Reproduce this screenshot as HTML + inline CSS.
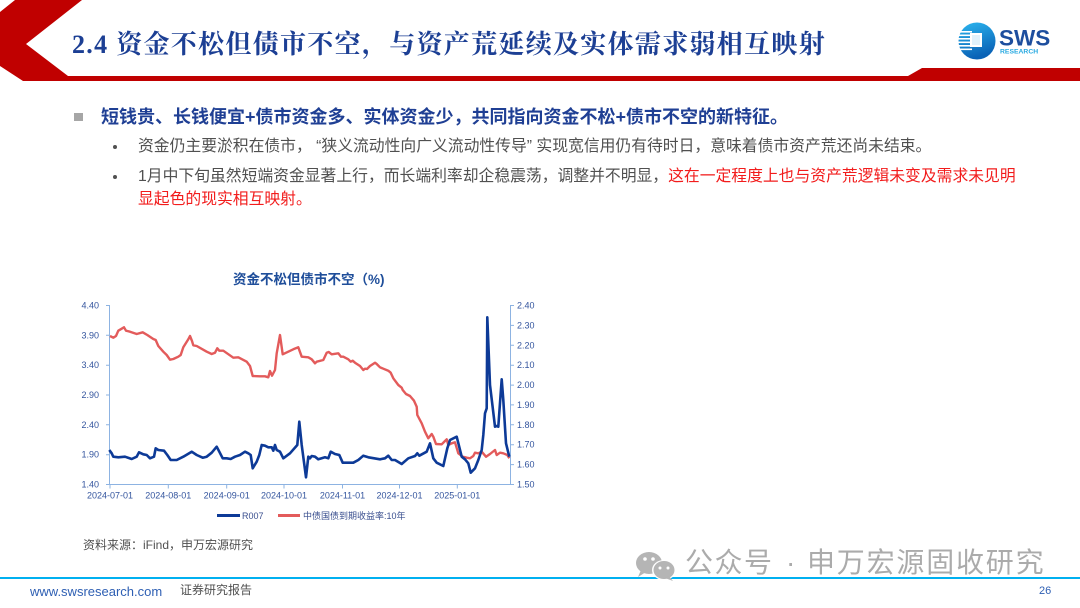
<!DOCTYPE html>
<html><head><meta charset="utf-8">
<style>
html,body{margin:0;padding:0;background:#fff;}
body{width:1080px;height:608px;position:relative;overflow:hidden;font-family:"Liberation Sans","Noto Sans CJK SC",sans-serif;}
.a{position:absolute;white-space:nowrap;}
.title{left:72px;top:28px;font-family:"Liberation Serif","Noto Serif CJK SC",serif;font-weight:700;font-size:26px;line-height:34px;color:#1c3f94;letter-spacing:1.3px;}
.h1{left:101px;top:105px;font-size:18px;line-height:24px;font-weight:700;color:#1f3f94;}
.p{left:138px;font-size:15.8px;line-height:22px;color:#505050;}
.red{color:#f21c1c;}
.dot{position:absolute;width:4px;height:4px;border-radius:50%;background:#505050;}
</style></head><body>

<svg class="a" style="left:0;top:0" width="1080" height="608" viewBox="0 0 1080 608">
  <defs>
    <linearGradient id="lg" x1="0" y1="0" x2="0.3" y2="1">
      <stop offset="0" stop-color="#2cb6ef"/>
      <stop offset="1" stop-color="#0a62b6"/>
    </linearGradient>
  </defs>
  <!-- header red shapes -->
  <polygon points="15,0 82,0 26,44 68,76 23,81 0,66 0,12" fill="#c00000"/>
  <polygon points="23,76 908,76 922,68 1080,68 1080,81 23,81" fill="#c00000"/>

  <!-- logo -->
  <circle cx="977" cy="41" r="18.5" fill="url(#lg)"/>
  <rect x="958" y="31" width="14" height="1.6" fill="#fff"/>
  <rect x="958" y="34.5" width="13" height="1.6" fill="#fff"/>
  <rect x="958" y="38" width="12" height="1.6" fill="#fff"/>
  <rect x="958" y="41.5" width="12" height="1.6" fill="#fff"/>
  <rect x="958" y="45" width="13" height="1.6" fill="#fff"/>
  <rect x="959" y="48.5" width="13" height="1.6" fill="#fff"/>
  <rect x="970" y="33" width="12" height="14" fill="#fff"/>
  <rect x="972" y="35" width="8" height="10" fill="#dff1fb"/>
  <text x="999" y="45.5" font-family="Liberation Sans, sans-serif" font-weight="700" font-size="22.5" fill="#1d4e9e">SWS</text>
  <text x="1000" y="53.5" font-family="Liberation Sans, sans-serif" font-weight="700" font-size="6.8" fill="#27a9e1">RESEARCH</text>

  <!-- chart title -->
  <text x="233" y="284" font-family="Liberation Sans, Noto Sans CJK SC, sans-serif" font-weight="700" font-size="13.5" fill="#1f4e9a">资金不松但债市不空（%)</text>

  <!-- axes -->
  <g stroke="#8db3e2" stroke-width="1" fill="none">
    <line x1="109.5" y1="305" x2="109.5" y2="485"/>
    <line x1="510.5" y1="305" x2="510.5" y2="485"/>
    <line x1="109.5" y1="484.5" x2="510.5" y2="484.5"/>
    <path d="M106 305.5H109.5M106 335.3H109.5M106 365.2H109.5M106 395H109.5M106 424.8H109.5M106 454.7H109.5M106 484.5H109.5"/>
    <path d="M510.5 305.5H514M510.5 325.4H514M510.5 345.3H514M510.5 365.2H514M510.5 385.1H514M510.5 404.9H514M510.5 424.8H514M510.5 444.7H514M510.5 464.6H514M510.5 484.5H514"/>
    <path d="M110 484.5V488.5M168.3 484.5V488.5M226.7 484.5V488.5M284 484.5V488.5M342.5 484.5V488.5M399.5 484.5V488.5M457.3 484.5V488.5"/>
  </g>
  <g font-family="Liberation Sans, sans-serif" font-size="9" fill="#34559e">
    <g text-anchor="end">
      <text x="99" y="308.5">4.40</text>
      <text x="99" y="338.3">3.90</text>
      <text x="99" y="368.2">3.40</text>
      <text x="99" y="398">2.90</text>
      <text x="99" y="427.8">2.40</text>
      <text x="99" y="457.7">1.90</text>
      <text x="99" y="487.5">1.40</text>
    </g>
    <g>
      <text x="517" y="308.5">2.40</text>
      <text x="517" y="328.4">2.30</text>
      <text x="517" y="348.3">2.20</text>
      <text x="517" y="368.2">2.10</text>
      <text x="517" y="388.1">2.00</text>
      <text x="517" y="407.9">1.90</text>
      <text x="517" y="427.8">1.80</text>
      <text x="517" y="447.7">1.70</text>
      <text x="517" y="467.6">1.60</text>
      <text x="517" y="487.5">1.50</text>
    </g>
    <g text-anchor="middle">
      <text x="110" y="498.5">2024-07-01</text>
      <text x="168.3" y="498.5">2024-08-01</text>
      <text x="226.7" y="498.5">2024-09-01</text>
      <text x="284" y="498.5">2024-10-01</text>
      <text x="342.5" y="498.5">2024-11-01</text>
      <text x="399.5" y="498.5">2024-12-01</text>
      <text x="457.3" y="498.5">2025-01-01</text>
    </g>
  </g>

  <!-- red series -->
  <polyline fill="none" stroke="#e35b5b" stroke-width="2.4" stroke-linejoin="round" points="110,336 113.3,337.7 116,336 118.3,330.7 121.7,328.7 124,327.3 126,330.7 130,331.7 136.7,334 142.7,332.3 147.3,335 153.3,339 155.7,340 158.3,346 163.3,351.7 166.7,355 170,359.7 173.3,359 178.3,356.7 180.7,355 183.3,347.3 188.3,339.3 190,336 192,341 193.3,345.3 196.7,346 206.7,351.7 211.7,354 215,352.7 217.3,348.3 219.3,350.7 223.3,350.7 233.3,357.7 238.3,357.3 246.7,361.7 250,366 252.7,376 260,376.3 265,376.3 268.3,377.3 270,371 272,375.7 275,370 276.7,353.3 280,335 282.7,354.3 293.3,349.3 298.3,347.3 301.7,356.7 308.3,357.3 311.7,359.3 315,363.3 316.7,361.7 323.3,360 326.7,352.7 328.7,352 331.7,354.3 338.3,353.3 341,356.7 343.3,356.7 348.3,359.3 350.7,361.7 352.7,360.7 355,362.7 360,366 363.3,370 365,368.7 367,369 370,366 375,362.7 376.7,364 380,367.3 383.3,368.7 388.3,370.7 390.7,372.7 393.3,378.3 398.3,385 401.7,387.7 402.7,390 406,394 410,396 414,400.7 416.7,406.7 417.3,415 421.7,423.3 425,431.7 428.3,438.3 431.7,434 433.3,436.7 436,444 441.7,444.3 445,441 446.7,439.3 448.3,445 451.7,443.3 455,442.3 458.3,453.3 462.7,456.7 466.7,457.7 470,458.3 473.3,456 475,452.7 478.3,453.3 481.7,451.7 486,456.7 490,454 495,450 496.7,455 500,452.7 503.3,453.3 507.3,455 509.3,458.3"/>
  <!-- blue series -->
  <polyline fill="none" stroke="#0d3a97" stroke-width="2.6" stroke-linejoin="round" points="109.3,450 111.7,453.3 113.3,456.7 118.3,457.3 125,456.7 131.7,459 136.7,456.7 139,452.3 143.3,454.3 146.7,455 150,458.3 154,456.7 155.7,448.3 158.3,450 164,450.7 167.3,455 170.7,460 176.7,460 183.3,456.7 191.7,451.7 196.7,455 202.7,457.7 206.7,456.7 211.7,452.7 216.7,446.7 219.3,451.7 222.7,458.3 226.7,458.3 230.7,459 235,456.7 240,455 245,451.7 248.3,453.3 250.7,455 252.7,468.3 256.7,461.7 259.3,455 261.7,445 265,445.7 268.3,447.3 271.7,447.3 273.3,450.7 275,445 276.7,450 280,451.7 283.3,458.3 290,453.3 297.3,445 299.3,421.7 301.7,445 306,477.3 308.3,456.7 310,458.3 311.7,456 315,456.7 318.3,459.3 325,457.3 328.3,458.3 330.7,451.7 335,454 339.3,455 342.7,462.7 353.3,462.7 358.3,460 363.3,455.7 368.3,457.3 380,459.3 385,458.3 388.3,455.7 391.7,460 395,460 401.7,464 408.3,458.3 415,456 417.3,453.3 419.3,455.7 426.7,451.7 430,443.3 433.3,458.3 436.7,462.7 443.3,466 447.3,448.3 450,440 456.7,436.7 461.7,456.7 465,459.3 468.3,463.3 470.7,472.7 475,468.3 478.3,460 481.7,450 483.3,435 485,413.3 486.7,408.3 487.3,317.3 490,385 495,426.7 496.7,426 498.3,426.7 501.7,379.3 503.3,400 506,443.3 509.3,456.7"/>

  <!-- legend -->
  <line x1="217" y1="515.5" x2="240" y2="515.5" stroke="#0d3a97" stroke-width="3"/>
  <text x="242" y="518.8" font-family="Liberation Sans, sans-serif" font-size="9" fill="#3a4f8f">R007</text>
  <line x1="278" y1="515.5" x2="300" y2="515.5" stroke="#e35b5b" stroke-width="3"/>
  <text x="303" y="518.8" font-family="Liberation Sans, Noto Sans CJK SC, sans-serif" font-size="9" fill="#3a4f8f">中债国债到期收益率:10年</text>

  <!-- footer line -->
  <rect x="0" y="577" width="1080" height="2" fill="#00b0f0"/>

  <!-- wechat icon -->
  <ellipse cx="649" cy="563" rx="13" ry="11" fill="#b5b5b5"/>
  <polygon points="641,570 638,577 646,572" fill="#b5b5b5"/>
  <ellipse cx="664" cy="570" rx="12" ry="10" fill="#ffffff"/>
  <ellipse cx="664" cy="570" rx="10.5" ry="9" fill="#b5b5b5"/>
  <polygon points="669,576 673,581 665,578" fill="#b5b5b5"/>
  <circle cx="645" cy="559" r="1.8" fill="#fff"/>
  <circle cx="653" cy="559" r="1.8" fill="#fff"/>
  <circle cx="660" cy="568" r="1.5" fill="#fff"/>
  <circle cx="668" cy="568" r="1.5" fill="#fff"/>
</svg>

<div class="a title">2.4 资金不松但债市不空，与资产荒延续及实体需求弱相互映射</div>

<div class="a" style="left:74px;top:113px;width:9px;height:8px;background:#a6a6a6;"></div>
<div class="a h1">短钱贵、长钱便宜+债市资金多、实体资金少，共同指向资金不松+债市不空的新特征。</div>

<div class="dot" style="left:113px;top:145px;"></div>
<div class="a p" style="top:135.5px;">资金仍主要淤积在债市，&nbsp;“狭义流动性向广义流动性传导”&nbsp;实现宽信用仍有待时日，意味着债市资产荒还尚未结束。</div>
<div class="dot" style="left:113px;top:175px;"></div>
<div class="a p" style="top:165.5px;">1月中下旬虽然短端资金显著上行，而长端利率却企稳震荡，调整并不明显，<span class="red">这在一定程度上也与资产荒逻辑未变及需求未见明</span></div>
<div class="a p red" style="top:189px;">显起色的现实相互映射。</div>

<div class="a" style="left:83px;top:537px;font-size:12px;line-height:16px;color:#505050;">资料来源：iFind，申万宏源研究</div>

<div class="a" style="left:685px;top:544px;font-size:28px;line-height:38px;color:#ababab;letter-spacing:1.5px;">公众号</div>
<div class="a" style="left:786px;top:544px;font-size:28px;line-height:38px;color:#ababab;">·</div>
<div class="a" style="left:807px;top:544px;font-size:28px;line-height:38px;color:#ababab;letter-spacing:1.8px;">申万宏源固收研究</div>

<div class="a" style="left:30px;top:583px;font-size:13px;line-height:17px;color:#2e5fb3;">www.swsresearch.com</div>
<div class="a" style="left:180px;top:582px;font-size:12px;line-height:17px;color:#505050;">证券研究报告</div>
<div class="a" style="left:1039px;top:584px;font-size:11px;line-height:15px;color:#2e5fb3;">26</div>

</body></html>
